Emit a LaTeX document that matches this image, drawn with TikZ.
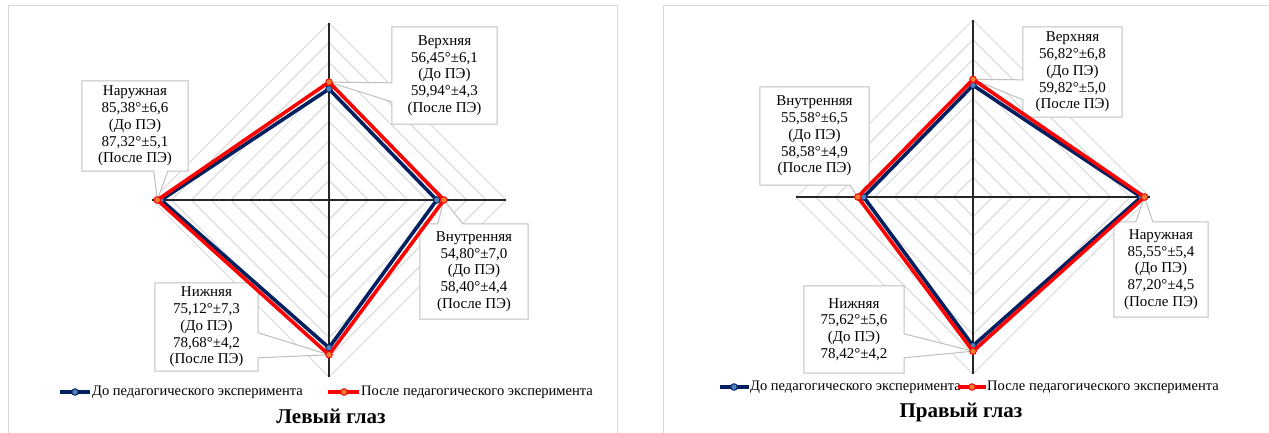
\documentclass[tikz,border=0pt]{standalone}
\usepackage{fontspec}
\setmainfont{Liberation Serif}
\usetikzlibrary{calc}
\pgfdeclarelayer{gridlayer}
\pgfdeclarelayer{boxlayer}
\pgfsetlayers{gridlayer,boxlayer,main}
\definecolor{navy}{HTML}{002060}
\definecolor{mblue}{HTML}{4F81BD}
\definecolor{morange}{HTML}{ED7D31}
\definecolor{gridg}{HTML}{D9D9D9}
\definecolor{boxg}{HTML}{BFBFBF}
\tikzset{
  panelframe/.style={draw=gridg, line width=1pt},
  gridline/.style={draw=gridg, line width=1pt},
  axisline/.style={draw=black!85, line width=1.3pt},
  calloutshape/.style={draw=boxg, fill=white, line width=1pt, line join=miter},
  lbl/.style={inner sep=0pt, align=center, font=\fontsize{15}{16.7}\selectfont},
  legtext/.style={inner sep=0pt, anchor=west, font=\fontsize{14.5}{16}\selectfont},
  ttl/.style={inner sep=0pt, font=\bfseries\fontsize{21}{24}\selectfont},
  beforeline/.style={draw=navy, line width=3.6pt, line join=round},
  afterline/.style={draw=red, line width=3.6pt, line join=round},
  bmark/.style={draw=navy, fill=mblue, line width=0.9pt},
  amark/.style={draw=red, fill=morange, line width=0.9pt}
}
\begin{document}
\begin{tikzpicture}[x=1pt,y=-1pt]
\useasboundingbox (0,0) rectangle (1269,432);
\begin{pgfonlayer}{gridlayer}
\fill[white] (0,0) rectangle (1269,432);
\draw[panelframe] (8,440) -- (8,5) -- (617,5) -- (617,440);
\draw[panelframe] (663,440) -- (663,5) -- (1285,5);
% left grid
\foreach \k in {1,...,9}{
  \draw[gridline] (329,{200-\k*177/9}) -- ({329+\k*177/9},200) -- (329,{200+\k*177/9}) -- ({329-\k*177/9},200) -- cycle;
}
\draw[axisline] (329,23) -- (329,377);
\draw[axisline] (152,200) -- (506,200);
% right grid
\foreach \k in {1,...,9}{
  \draw[gridline] (973,{197-\k*177/9}) -- ({973+\k*177/9},197) -- (973,{197+\k*177/9}) -- ({973-\k*177/9},197) -- cycle;
}
\draw[axisline] (973,20) -- (973,374);
\draw[axisline] (796,197) -- (1150,197);
\end{pgfonlayer}

% ---------- LEFT CHART data ----------
\coordinate (LBt) at (329,{200-56.45*177/90});
\coordinate (LBr) at ({329+54.80*177/90},200);
\coordinate (LBb) at (329,{200+75.12*177/90});
\coordinate (LBl) at ({329-85.38*177/90},200);
\coordinate (LAt) at (329,{200-59.94*177/90});
\coordinate (LAr) at ({329+58.40*177/90},200);
\coordinate (LAb) at (329,{200+78.68*177/90});
\coordinate (LAl) at ({329-87.32*177/90},200);

% ---------- RIGHT CHART data ----------
\coordinate (RBt) at (973,{197-56.82*177/90});
\coordinate (RBr) at ({973+85.55*177/90},197);
\coordinate (RBb) at (973,{197+75.62*177/90});
\coordinate (RBl) at ({973-55.58*177/90},197);
\coordinate (RAt) at (973,{197-59.82*177/90});
\coordinate (RAr) at ({973+87.20*177/90},197);
\coordinate (RAb) at (973,{197+78.42*177/90});
\coordinate (RAl) at ({973-58.58*177/90},197);

% ---------- labels (left) ----------
\node[lbl, minimum width=105pt, minimum height=97pt] (lTop) at (444.5,75.5) {Верхняя\\56,45°±6,1\\(До ПЭ)\\59,94°±4,3\\(После ПЭ)};
\node[lbl, minimum width=106pt, minimum height=90pt] (lLeft) at (135,126) {Наружная\\85,38°±6,6\\(До ПЭ)\\87,32°±5,1\\(После ПЭ)};
\node[lbl, minimum width=108pt, minimum height=95pt] (lRight) at (474,271.5) {Внутренняя\\54,80°±7,0\\(До ПЭ)\\58,40°±4,4\\(После ПЭ)};
\node[lbl, minimum width=103pt, minimum height=88pt] (lBot) at (206.5,327) {Нижняя\\75,12°±7,3\\(До ПЭ)\\78,68°±4,2\\(После ПЭ)};
% ---------- labels (right) ----------
\node[lbl, minimum width=99pt, minimum height=90pt] (rTop) at (1072.5,72) {Верхняя\\56,82°±6,8\\(До ПЭ)\\59,82°±5,0\\(После ПЭ)};
\node[lbl, minimum width=109pt, minimum height=98pt] (rLeft) at (814.5,136) {Внутренняя\\55,58°±6,5\\(До ПЭ)\\58,58°±4,9\\(После ПЭ)};
\node[lbl, minimum width=94pt, minimum height=95pt] (rRight) at (1161,269.5) {Наружная\\85,55°±5,4\\(До ПЭ)\\87,20°±4,5\\(После ПЭ)};
\node[lbl, minimum width=100pt, minimum height=87pt] (rBot) at (854,329.5) {Нижняя\\75,62°±5,6\\(До ПЭ)\\78,42°±4,2};

\begin{pgfonlayer}{boxlayer}
% left callouts
\draw[calloutshape] (lTop.north west) -- (lTop.north east) -- (lTop.south east) -- (lTop.south west)
  -- ($(lTop.north west)+(0,75)$) -- (LAt) -- ($(lTop.north west)+(0,56)$) -- cycle;
\draw[calloutshape] (lLeft.north west) -- (lLeft.north east) -- (lLeft.south east)
  -- ($(lLeft.south west)+(86,0)$) -- (LAl) -- ($(lLeft.south west)+(72,0)$) -- (lLeft.south west) -- cycle;
\draw[calloutshape] (lRight.north west) -- ($(lRight.north west)+(18,0)$) -- (LAr) -- ($(lRight.north west)+(43,0)$)
  -- (lRight.north east) -- (lRight.south east) -- (lRight.south west) -- cycle;
\draw[calloutshape] (lBot.north west) -- (lBot.north east) -- ($(lBot.north east)+(0,50)$) -- (LAb)
  -- ($(lBot.north east)+(0,75)$) -- (lBot.south east) -- (lBot.south west) -- cycle;
% right callouts
\draw[calloutshape] (rTop.north west) -- (rTop.north east) -- (rTop.south east) -- (rTop.south west)
  -- ($(rTop.north west)+(0,73)$) -- (RAt) -- ($(rTop.north west)+(0,53)$) -- cycle;
\draw[calloutshape] (rLeft.north west) -- (rLeft.north east) -- (rLeft.south east)
  -- ($(rLeft.south west)+(106,0)$) -- (RAl) -- ($(rLeft.south west)+(90,0)$) -- (rLeft.south west) -- cycle;
\draw[calloutshape] (rRight.north west) -- ($(rRight.north west)+(22,0)$) -- (RAr) -- ($(rRight.north west)+(39,0)$)
  -- (rRight.north east) -- (rRight.south east) -- (rRight.south west) -- cycle;
\draw[calloutshape] (rBot.north west) -- (rBot.north east) -- ($(rBot.north east)+(0,48)$) -- (RAb)
  -- ($(rBot.north east)+(0,72)$) -- (rBot.south east) -- (rBot.south west) -- cycle;
\end{pgfonlayer}

% series left
\draw[beforeline] (LBt) -- (LBr) -- (LBb) -- (LBl) -- cycle;
\foreach \p in {LBt,LBr,LBb,LBl} \draw[bmark] (\p) circle (3.3);
\draw[afterline] (LAt) -- (LAr) -- (LAb) -- (LAl) -- cycle;
\foreach \p in {LAt,LAr,LAb,LAl} \draw[amark] (\p) circle (3.3);
% series right
\draw[beforeline] (RBt) -- (RBr) -- (RBb) -- (RBl) -- cycle;
\foreach \p in {RBt,RBr,RBb,RBl} \draw[bmark] (\p) circle (3.3);
\draw[afterline] (RAt) -- (RAr) -- (RAb) -- (RAl) -- cycle;
\foreach \p in {RAt,RAr,RAb,RAl} \draw[amark] (\p) circle (3.3);

% legends left
\coordinate (lg1a) at (60,392); \coordinate (lg1b) at (90,392); \coordinate (lg1m) at (75,392);
\draw[beforeline] (lg1a) -- (lg1b); \draw[bmark] (lg1m) circle (3.3);
\node[legtext] (lgt1) at (92,392) {До педагогического эксперимента};
\coordinate (lg2a) at (328,392); \coordinate (lg2b) at (359,392); \coordinate (lg2m) at (344,392);
\draw[afterline] (lg2a) -- (lg2b); \draw[amark] (lg2m) circle (3.3);
\node[legtext] (lgt2) at (361,392) {После педагогического эксперимента};
% legends right
\coordinate (rg1a) at (720,387); \coordinate (rg1b) at (749,387); \coordinate (rg1m) at (734,387);
\draw[beforeline] (rg1a) -- (rg1b); \draw[bmark] (rg1m) circle (3.3);
\node[legtext] (rgt1) at (750,387) {До педагогического эксперимента};
\coordinate (rg2a) at (958,387); \coordinate (rg2b) at (986,387); \coordinate (rg2m) at (972,387);
\draw[afterline] (rg2a) -- (rg2b); \draw[amark] (rg2m) circle (3.3);
\node[legtext] (rgt2) at (987,387) {После педагогического эксперимента};

% titles
\node[ttl] (tL) at (331,416) {Левый глаз};
\node[ttl] (tR) at (961,412) {Правый глаз};
\end{tikzpicture}
\end{document}
